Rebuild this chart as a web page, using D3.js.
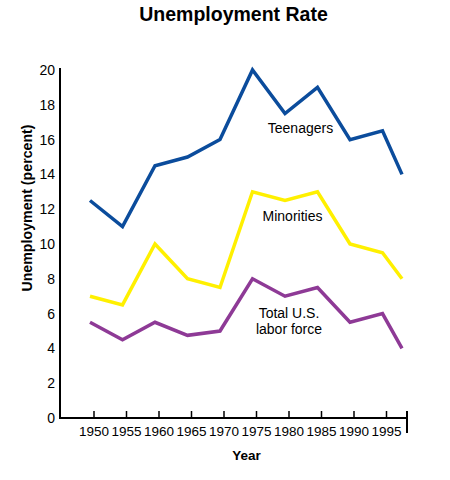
<!DOCTYPE html>
<html>
<head>
<meta charset="utf-8">
<script src="https://cdn.jsdelivr.net/npm/d3@7/dist/d3.min.js"></script>
<style>
  body { margin: 0; background: #fff; }
  svg { font-family: "Liberation Sans", Arial, sans-serif; }
</style>
</head>
<body>
<svg id="chart" width="450" height="480"></svg>
<script>
const years = [1950, 1955, 1960, 1965, 1970, 1975, 1980, 1985, 1990, 1995, 1998];
const teenagers = [12.5, 11, 14.5, 15, 16, 20, 17.5, 19, 16, 16.5, 14];
const minorities = [7, 6.5, 10, 8, 7.5, 13, 12.5, 13, 10, 9.5, 8];
const totalLabor = [5.5, 4.5, 5.5, 4.75, 5, 8, 7, 7.5, 5.5, 6, 4];
const xTickYears = [1950, 1955, 1960, 1965, 1970, 1975, 1980, 1985, 1990, 1995];
const yTicks = [0, 2, 4, 6, 8, 10, 12, 14, 16, 18, 20];

const svg = d3.select("#chart");
const x = d3.scaleLinear().domain([1950, 1995]).range([90, 382.5]);
const y = d3.scaleLinear().domain([0, 20]).range([418, 70]);
const tickOffset = 3.5;
const FF = "Liberation Sans, Arial, sans-serif";

// title
svg.append("text").attr("x", 233.5).attr("y", 21).attr("text-anchor", "middle")
  .attr("font-size", 19.5).attr("font-weight", "bold").text("Unemployment Rate");

// y axis
const yAxis = d3.axisLeft(y).tickValues(yTicks).tickSize(0).tickPadding(5).tickFormat(d3.format("d"));
const gy = svg.append("g").attr("transform", "translate(60,0)").call(yAxis);
gy.select(".domain").remove();
gy.selectAll("text").attr("font-size", 14).attr("fill", "#000").attr("font-family", FF);
svg.append("line").attr("x1", 60).attr("x2", 60).attr("y1", 68).attr("y2", 419)
  .attr("stroke", "#000").attr("stroke-width", 2);

// x axis
const xAxis = d3.axisBottom(x).tickValues(xTickYears).tickSize(-7).tickPadding(8.5).tickFormat(d3.format("d"));
const gx = svg.append("g").attr("transform", `translate(${tickOffset},418)`).call(xAxis);
gx.select(".domain").remove();
gx.selectAll(".tick line").attr("stroke", "#000").attr("stroke-width", 1.5);
gx.selectAll("text").attr("font-size", 13.5).attr("fill", "#000").attr("font-family", FF);
svg.append("line").attr("x1", 59).attr("x2", 408).attr("y1", 418).attr("y2", 418)
  .attr("stroke", "#000").attr("stroke-width", 2);
svg.append("line").attr("x1", 407).attr("x2", 407).attr("y1", 411).attr("y2", 433)
  .attr("stroke", "#000").attr("stroke-width", 2);

// axis titles
svg.append("text").attr("transform", "translate(32,208) rotate(-90)").attr("text-anchor", "middle")
  .attr("font-size", 14.2).attr("font-weight", "bold").text("Unemployment (percent)");
svg.append("text").attr("x", 246.5).attr("y", 460).attr("text-anchor", "middle")
  .attr("font-size", 13.5).attr("font-weight", "bold").text("Year");

// lines
const line = d3.line().x((d, i) => x(years[i])).y(d => y(d));
const series = [
  { values: teenagers, color: "#0b4c9c" },
  { values: minorities, color: "#fff000" },
  { values: totalLabor, color: "#8e3a96" }
];
series.forEach(s => {
  svg.append("path").datum(s.values).attr("d", line).attr("fill", "none")
    .attr("stroke", s.color).attr("stroke-width", 3.5).attr("stroke-linejoin", "miter");
});

// series labels
const lab = (t, cx, by) => svg.append("text").attr("x", cx).attr("y", by)
  .attr("text-anchor", "middle").attr("font-size", 14).text(t);
lab("Teenagers", 300.5, 133);
lab("Minorities", 292.5, 221);
lab("Total U.S.", 289, 318);
lab("labor force", 289, 334);
</script>
</body>
</html>
